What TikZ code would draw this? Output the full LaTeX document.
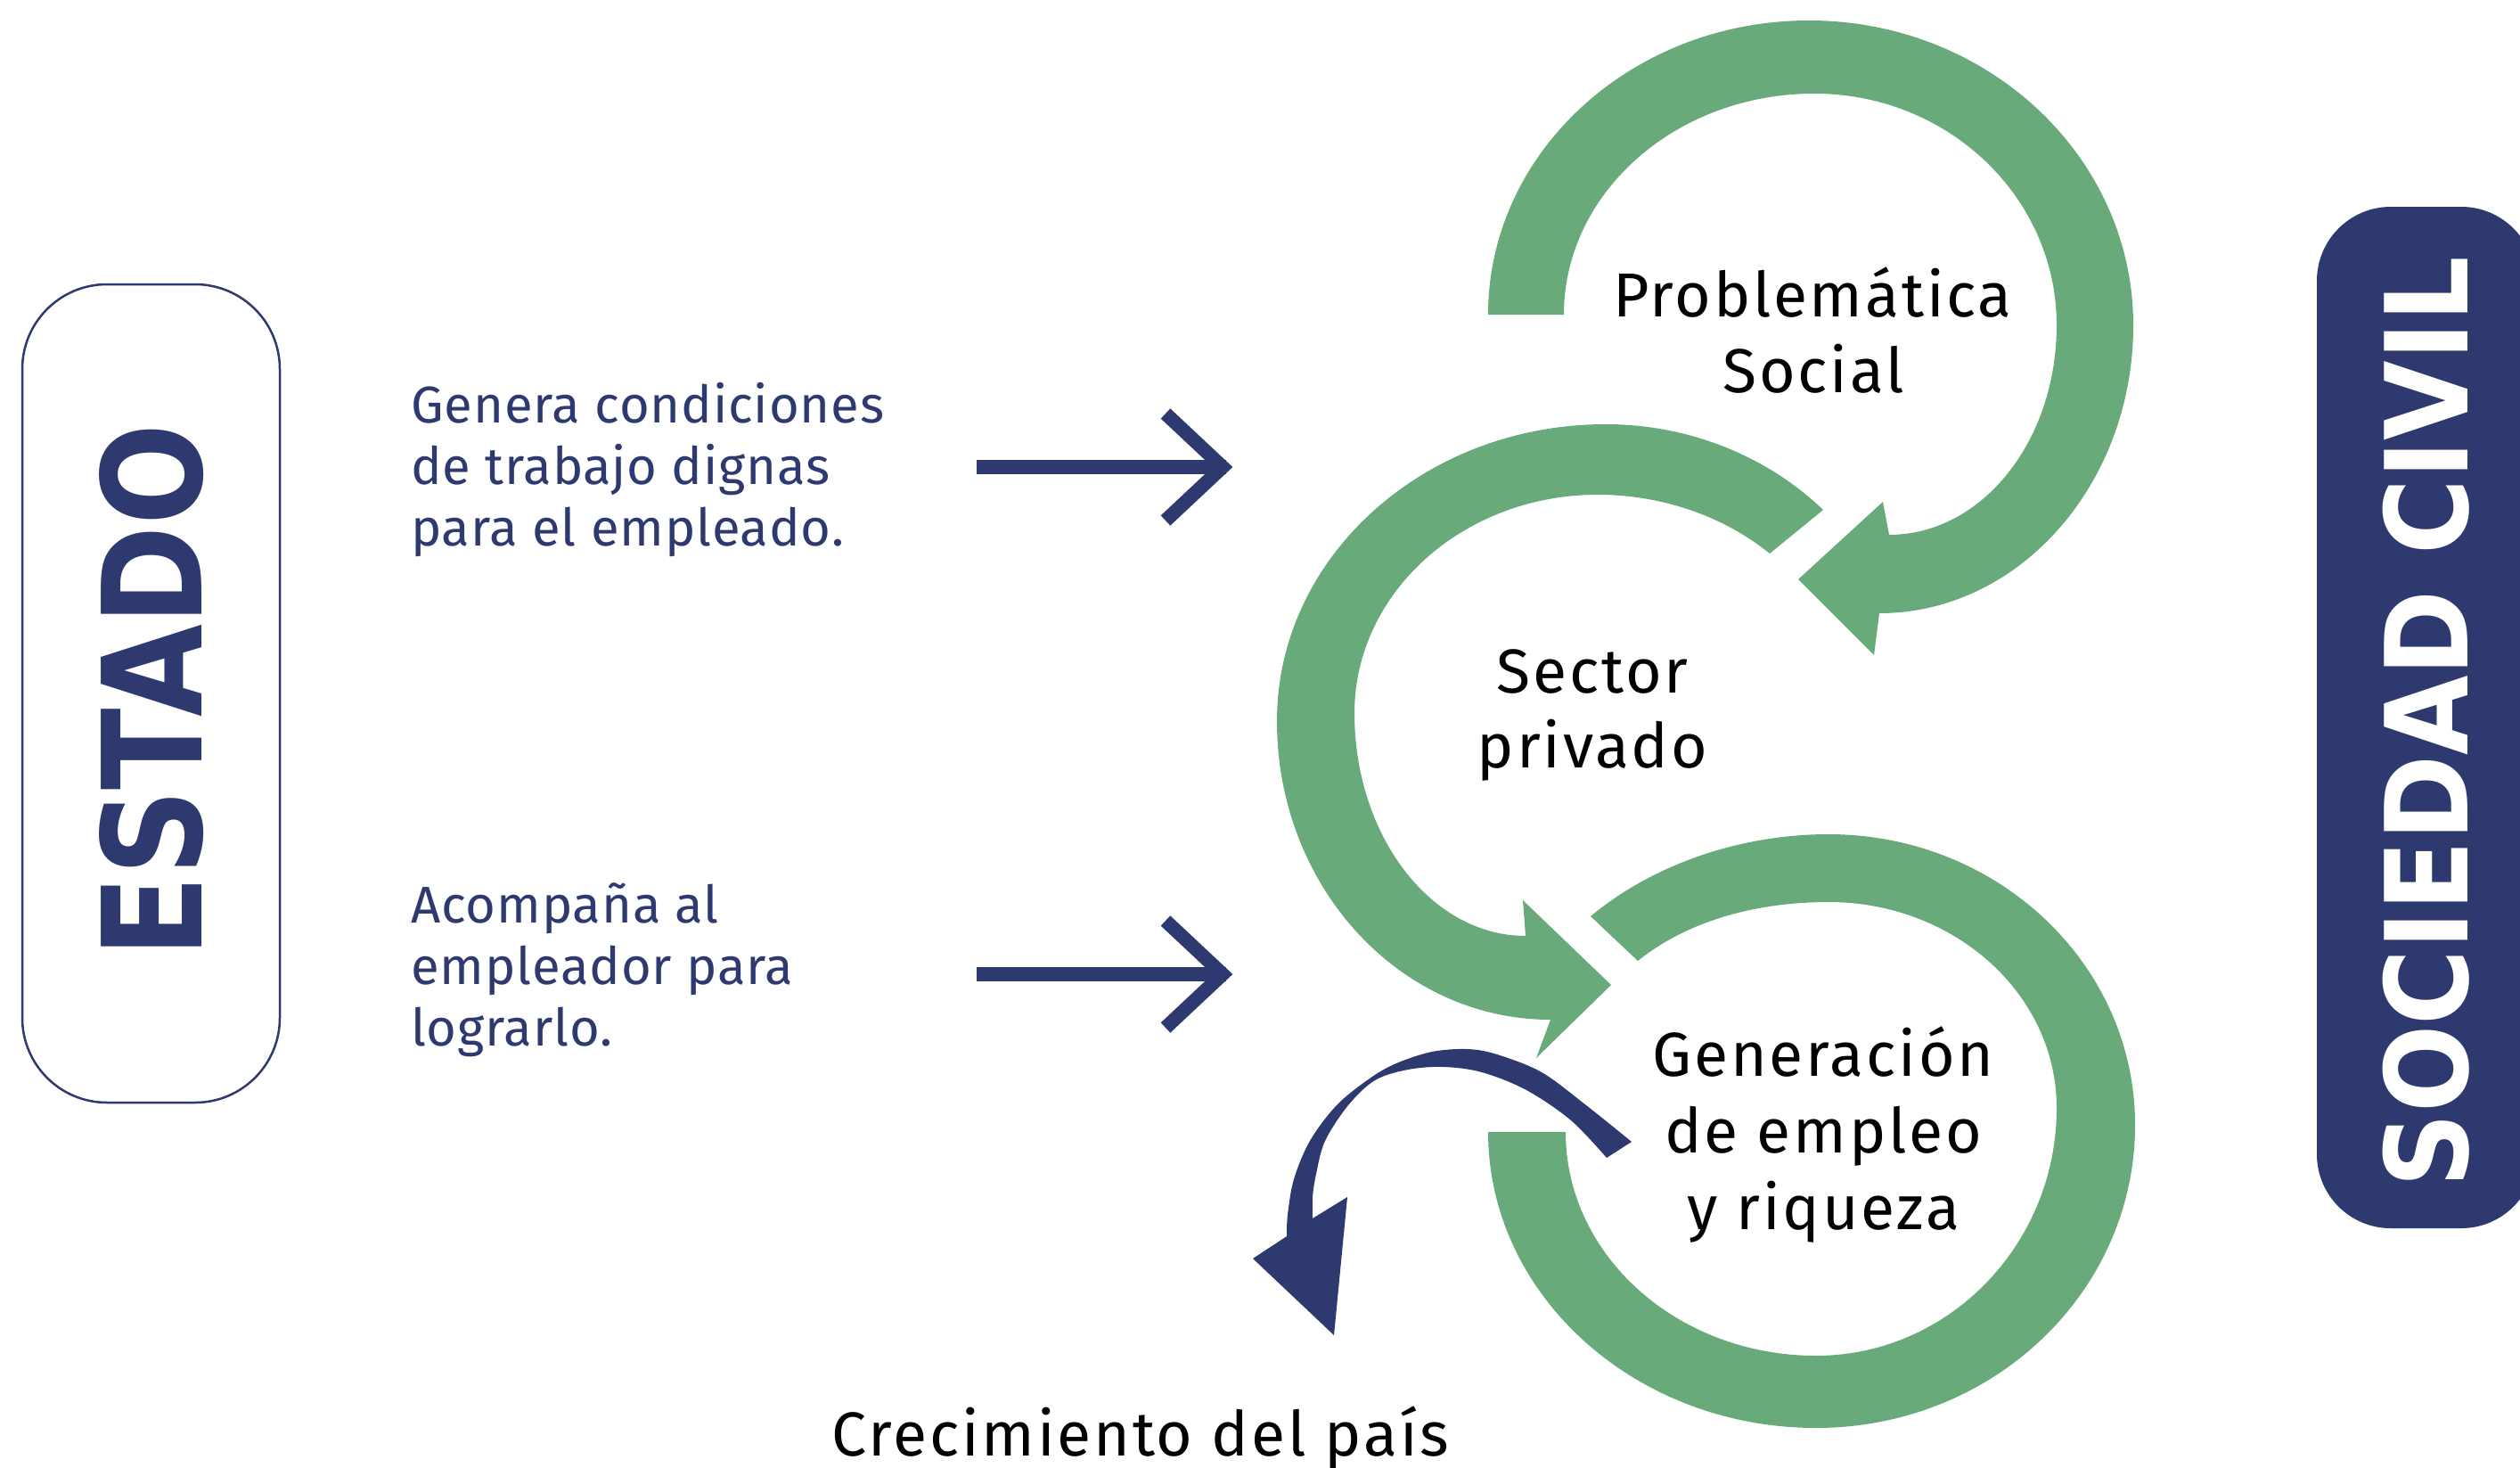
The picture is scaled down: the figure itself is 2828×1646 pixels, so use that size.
\documentclass[tikz,border=0pt]{standalone}
\usepackage{fontspec}
\usepackage{graphicx}
\setmainfont{Fira Sans}
\newfontfamily\lblfont[LetterSpace=4]{Fira Sans}
\newfontfamily\sidefont[LetterSpace=1.5]{Fira Sans}
\newfontfamily\heavyfont{DejaVu Sans}
\newfontfamily\condfont{DejaVu Sans Condensed}
\definecolor{navy}{HTML}{2E3970}
\definecolor{grn}{HTML}{68AA7A}
\tikzset{
  sidetext/.style={anchor=base west, inner sep=0pt, text=navy, font=\sidefont\fontsize{58}{60}\selectfont},
  lbltext/.style={anchor=base, inner sep=0pt, text=black, font=\lblfont\fontsize{69.7}{72}\selectfont},
  thinarrow/.style={draw=navy, line width=15.5pt},
  band/.style={fill=grn},
}
\begin{document}
\begin{tikzpicture}[x=1pt,y=-1pt]
\useasboundingbox (0,0) rectangle (2828,1646);

% ---------- ESTADO box ----------
\node[draw=navy, line width=2.5pt, rounded corners=95pt, minimum width=289pt, minimum height=918pt, inner sep=0pt] (estadobox) at (169.5,778) {};
\node[rotate=90, inner sep=0pt, text=navy] (estado) at (170,775) {\resizebox{598pt}{115pt}{\heavyfont\bfseries ESTADO}};

% ---------- SOCIEDAD CIVIL box ----------
\node[fill=navy, rounded corners=83pt, minimum width=245pt, minimum height=1146pt, inner sep=0pt] (socbox) at (2722.5,805) {};
\node[rotate=90, inner sep=0pt, text=white] (soc) at (2723,810) {\resizebox{1043pt}{!}{\condfont\bfseries SOCIEDAD CIVIL}};

% ---------- left texts ----------
\node[sidetext] (g1) at (461,474) {Genera condiciones};
\node[sidetext] (g2) at (461,543) {de trabajo dignas};
\node[sidetext] (g3) at (461,612) {para el empleado.};
\node[sidetext] (a1) at (461,1035) {Acompaña al};
\node[sidetext] (a2) at (461,1104) {empleador para};
\node[sidetext] (a3) at (461,1173) {lograrlo.};

% ---------- thin arrows ----------
\coordinate (s1) at (1096,524);
\coordinate (e1) at (1376,524);
\coordinate (h1a) at (1308,464);
\coordinate (h1t) at (1372,524);
\coordinate (h1b) at (1308,584);
\draw[thinarrow] (s1) -- (e1);
\draw[thinarrow, miter limit=4] (h1a) -- (h1t) -- (h1b);
\coordinate (s2) at (1096,1093);
\coordinate (e2) at (1376,1093);
\coordinate (h2a) at (1308,1033);
\coordinate (h2t) at (1372,1093);
\coordinate (h2b) at (1308,1153);
\draw[thinarrow] (s2) -- (e2);
\draw[thinarrow, miter limit=4] (h2a) -- (h2t) -- (h2b);

% ---------- top green arrow ----------
\fill[band] (1670,353) .. controls (1670,171) and (1831,23) .. (2030,23)
  .. controls (2231,23) and (2394,176) .. (2394,365)
  .. controls (2394,543) and (2266,688) .. (2109,688)
  -- (2103,735) -- (2018,650) -- (2113,563) -- (2120,600)
  .. controls (2224,600) and (2308,495) .. (2308,365)
  .. controls (2308,221) and (2186,105) .. (2036,105)
  .. controls (1881,105) and (1755,216) .. (1755,353)
  -- cycle;

% ---------- middle green arrow ----------
\fill[band] (2046,572) .. controls (1981,510) and (1893,476) .. (1802,476)
  .. controls (1598,476) and (1433,625) .. (1433,809)
  .. controls (1433,994) and (1570,1144) .. (1740,1144)
  -- (1724,1187) -- (1808,1105) -- (1709,1010) -- (1712,1050)
  .. controls (1606,1050) and (1520,938) .. (1520,800)
  .. controls (1520,665) and (1642,555) .. (1793,555)
  .. controls (1865,555) and (1934,579) .. (1986,621)
  -- cycle;

% ---------- bottom green arrow ----------
\fill[band] (1785,1028) .. controls (1856,969) and (1954,936) .. (2052,936)
  .. controls (2242,936) and (2396,1082) .. (2396,1262)
  .. controls (2396,1450) and (2236,1602) .. (2038,1602)
  .. controls (1835,1602) and (1670,1453) .. (1670,1270)
  -- (1757,1270)
  .. controls (1757,1409) and (1883,1521) .. (2038,1521)
  .. controls (2187,1521) and (2308,1396) .. (2308,1243)
  .. controls (2308,1115) and (2193,1012) .. (2052,1012)
  .. controls (1971,1012) and (1894,1033) .. (1838,1078)
  -- cycle;

% ---------- navy curved arrow ----------
\fill[navy] plot[smooth,tension=.55] coordinates {(1831,1281) (1780,1240) (1730,1203) (1680,1183) (1647,1177) (1607,1180) (1567,1193) (1537,1210) (1500,1240) (1470,1280) (1452,1323) (1445,1363) (1444,1387)}
  -- (1406,1412) -- (1497,1498) -- (1512,1343) -- (1473,1367)
  -- plot[smooth,tension=.55] coordinates {(1473,1367) (1473,1343) (1477,1317) (1487,1280) (1513,1240) (1543,1212) (1580,1200) (1620,1197) (1663,1203) (1713,1223) (1763,1257) (1803,1299)}
  -- cycle;

% ---------- labels ----------
\node[lbltext] (p1) at (2034,355) {Problemática};
\node[lbltext] (p2) at (2035,440) {Social};
\node[lbltext] (sp1) at (1787,777) {Sector};
\node[lbltext] (sp2) at (1787,861) {privado};
\node[lbltext] (ge1) at (2046,1207) {Generación};
\node[lbltext] (ge2) at (2046,1293) {de empleo};
\node[lbltext] (ge3) at (2046,1379) {y riqueza};
\node[lbltext] (cp) at (1280,1633) {Crecimiento del país};
\end{tikzpicture}
\end{document}
